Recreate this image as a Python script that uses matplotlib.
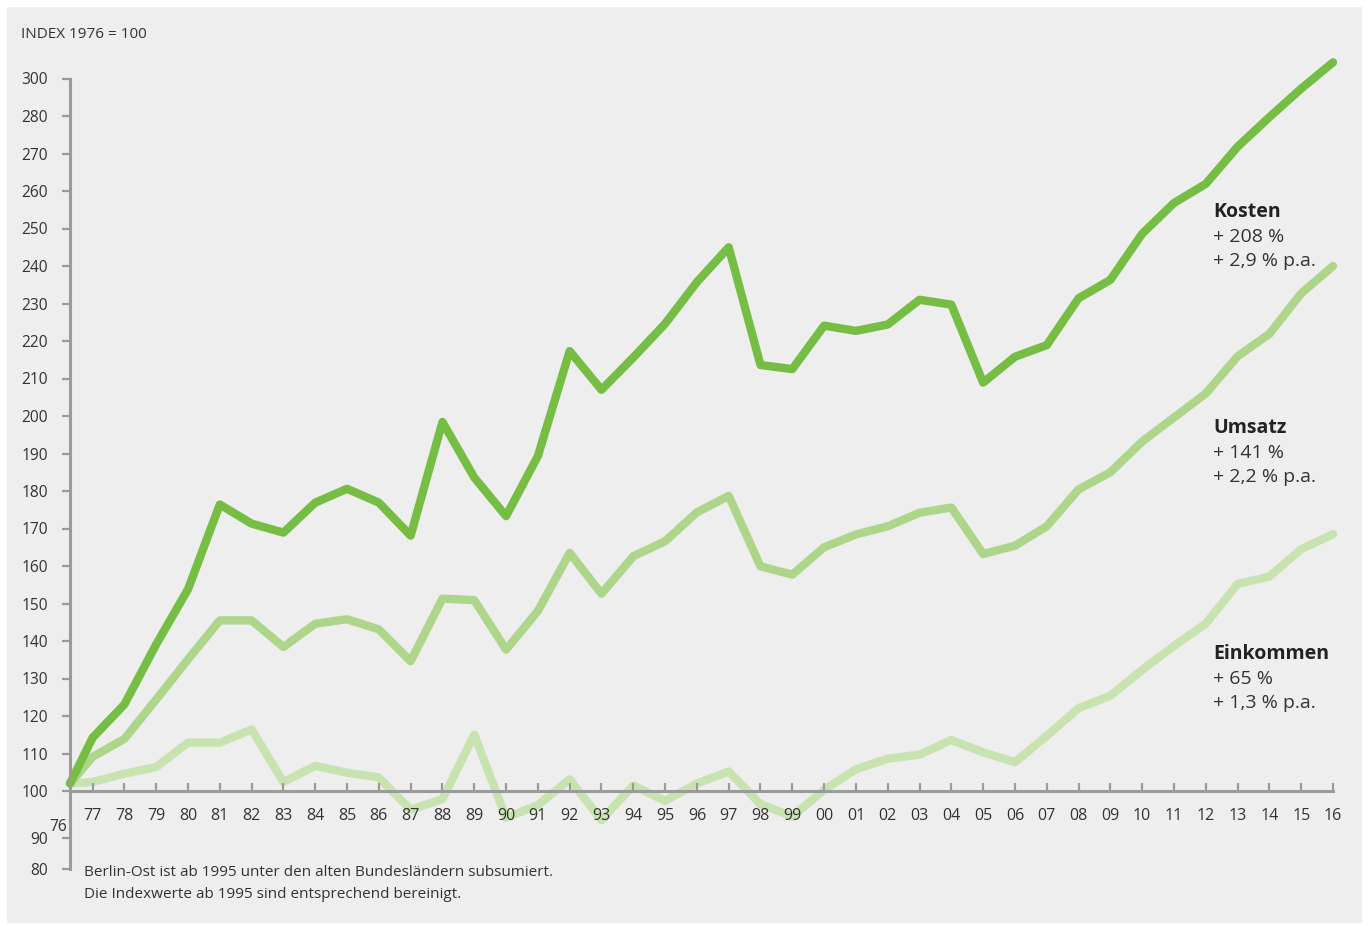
import numpy as np
import matplotlib
matplotlib.use("Agg")
import matplotlib.pyplot as plt
from matplotlib.patches import Rectangle

plt.rcParams['font.family'] = ['Open Sans', 'DejaVu Sans']

# Daten (Index 1976 = 100)
jahre = np.arange(1976, 2017)
jahr_labels = ['77', '78', '79', '80', '81', '82', '83', '84', '85', '86',
               '87', '88', '89', '90', '91', '92', '93', '94', '95', '96',
               '97', '98', '99', '00', '01', '02', '03', '04', '05', '06',
               '07', '08', '09', '10', '11', '12', '13', '14', '15', '16']

kosten = [102, 114.2, 123.1, 139.1, 153.8, 176.4, 171.3, 168.9, 176.9, 180.6,
          176.9, 168.1, 198.4, 183.6, 173.3, 189.3, 217.3, 207.0, 215.6, 224.6,
          235.7, 245.0, 213.6, 212.5, 224.1, 222.7, 224.4, 231.0, 229.7, 208.9,
          215.8, 218.9, 231.4, 236.3, 248.6, 256.8, 261.9, 271.8, 279.7, 287.3,
          294.3]
umsatz = [102, 109.1, 113.9, 124.4, 135.1, 145.5, 145.5, 138.4, 144.6, 145.8,
          143.1, 134.6, 151.3, 150.9, 137.7, 148.0, 163.5, 152.6, 162.6, 166.6,
          174.3, 178.7, 159.9, 157.7, 165.0, 168.4, 170.6, 174.2, 175.6, 163.2,
          165.4, 170.6, 180.4, 185.0, 193.2, 199.6, 206.0, 215.9, 221.9, 232.7,
          240.0]
einkommen = [102, 102.4, 104.6, 106.4, 112.9, 112.9, 116.4, 102.4, 106.7, 104.9,
             103.6, 96.0, 98.3, 115.0, 94.3, 97.0, 103.1, 93.8, 101.5, 97.9,
             102.0, 105.2, 97.2, 94.6, 100.3, 105.8, 108.6, 109.7, 113.6, 110.3,
             107.7, 114.7, 122.1, 125.4, 132.3, 138.7, 144.6, 155.2, 157.2, 164.5,
             168.5]

y_ticks = [80, 90] + list(range(100, 300, 10))
y_labels = ['80', '90'] + [str(v) for v in range(100, 290, 10)] + ['300']

serien = [
    ('Einkommen', einkommen, '#c8e3b0', ['+ 65 %', '+ 1,3 % p.a.']),
    ('Umsatz', umsatz, '#aed68b', ['+ 141 %', '+ 2,2 % p.a.']),
    ('Kosten', kosten, '#76be43', ['+ 208 %', '+ 2,9 % p.a.']),
]

grau = '#9b9b9b'
text_farbe = '#333333'

# gestauchte Skala unterhalb von 100
knoten_v = [-1000, 80, 90, 100, 1000]
knoten_t = [79.2 - 1080 * 0.827, 79.2, 87.47, 100, 1000]

def fwd(v):
    return np.interp(v, knoten_v, knoten_t)

def inv(t):
    return np.interp(t, knoten_t, knoten_v)

W, H = 1368, 926
fig = plt.figure(figsize=(W / 100, H / 100), dpi=100, facecolor='white')
fig.patches.append(Rectangle((7 / W, 3 / H), 1355 / W, 916 / H,
                             transform=fig.transFigure, facecolor='#eeeeee',
                             edgecolor='none', zorder=-10))

ax = fig.add_axes([70 / W, (H - 869) / H, (1333 - 70) / W, (869 - 41) / H])
ax.set_facecolor('none')
ax.set_yscale('function', functions=(fwd, inv))
ax.set_axisbelow(False)

x = jahre.astype(float)
x[0] += 0.29  # Startpunkt liegt auf der y-Achse

for name, werte, farbe, zeilen in serien:
    ax.plot(x, werte, color=farbe, lw=6, solid_capstyle='round',
            solid_joinstyle='round', clip_on=False)

ax.set_xlim(1976.29, 2016)
ax.set_ylim(80, 300)

for s in ['top', 'right']:
    ax.spines[s].set_visible(False)
ax.spines['bottom'].set_position(('data', 100))
ax.spines['left'].set_bounds(80, 290)
for s in ['bottom', 'left']:
    ax.spines[s].set_color(grau)
    ax.spines[s].set_linewidth(2.2)

ax.set_xticks(jahre[1:])
ax.set_xticklabels(jahr_labels)
ax.tick_params(axis='x', direction='in', length=5.5, width=1.6, color=grau,
               pad=12, labelsize=11.5, labelcolor=text_farbe)
ax.set_yticks(y_ticks)
ax.set_yticklabels(y_labels)
ax.tick_params(axis='y', direction='out', length=6, width=1.6, color=grau,
               pad=10, labelsize=11.2, labelcolor=text_farbe)

ax.text(1975.91, 92.3, '76', ha='center', va='center', fontsize=11.2,
        color=text_farbe, clip_on=False)

fig.text(21 / W, 1 - 35 / H, 'INDEX 1976 = 100', ha='left', va='center',
         fontsize=11, color=text_farbe)
fig.text(84 / W, 1 - 872 / H, 'Berlin-Ost ist ab 1995 unter den alten Bundesländern subsumiert.',
         ha='left', va='center', fontsize=11, color=text_farbe)
fig.text(84 / W, 1 - 894 / H, 'Die Indexwerte ab 1995 sind entsprechend bereinigt.',
         ha='left', va='center', fontsize=11, color=text_farbe)

# Beschriftungen rechts
label_y = {'Kosten': 212, 'Umsatz': 428, 'Einkommen': 654}
for name, werte, farbe, zeilen in serien:
    y0 = label_y[name]
    fig.text(1213 / W, 1 - y0 / H, name, ha='left', va='center', fontsize=14,
             fontweight='bold', color='#222222')
    for i, z in enumerate(zeilen):
        fig.text(1213 / W, 1 - (y0 + 24.5 * (i + 1)) / H, z, ha='left',
                 va='center', fontsize=14, color=text_farbe)

fig.savefig('out.png', dpi=100, facecolor='white')
